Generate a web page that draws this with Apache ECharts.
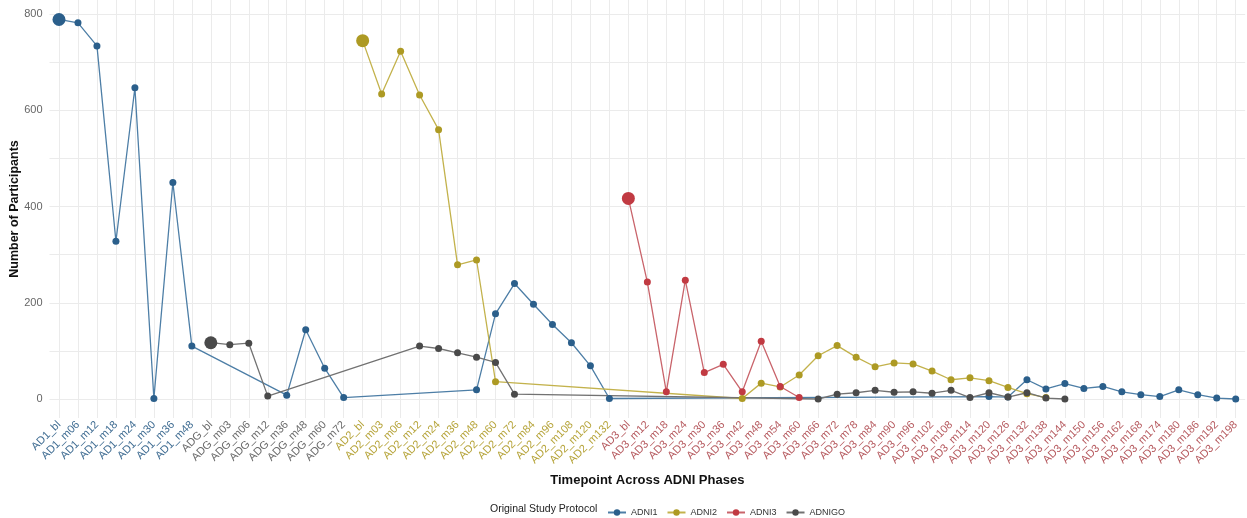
<!DOCTYPE html>
<html>
<head>
<meta charset="utf-8">
<script src="https://cdn.jsdelivr.net/npm/echarts@6/dist/echarts.min.js"></script>
<style>
  html, body { margin: 0; padding: 0; background: #ffffff; }
  #chart { width: 1247px; height: 518px; }
</style>
</head>
<body>
<div id="chart"></div>
<script>
// Visit codes along the x axis, in study order
const visitCodes = [
  'AD1_bl','AD1_m06','AD1_m12','AD1_m18','AD1_m24','AD1_m30','AD1_m36','AD1_m48',
  'ADG_bl','ADG_m03','ADG_m06','ADG_m12','ADG_m36','ADG_m48','ADG_m60','ADG_m72',
  'AD2_bl','AD2_m03','AD2_m06','AD2_m12','AD2_m24','AD2_m36','AD2_m48','AD2_m60',
  'AD2_m72','AD2_m84','AD2_m96','AD2_m108','AD2_m120','AD2_m132',
  'AD3_bl','AD3_m12','AD3_m18','AD3_m24','AD3_m30','AD3_m36','AD3_m42','AD3_m48',
  'AD3_m54','AD3_m60','AD3_m66','AD3_m72','AD3_m78','AD3_m84','AD3_m90','AD3_m96',
  'AD3_m102','AD3_m108','AD3_m114','AD3_m120','AD3_m126','AD3_m132','AD3_m138',
  'AD3_m144','AD3_m150','AD3_m156','AD3_m162','AD3_m168','AD3_m174','AD3_m180',
  'AD3_m186','AD3_m192','AD3_m198'
];

// Participants enrolled under ADNI1
const adni1Visits = ['AD1_bl','AD1_m06','AD1_m12','AD1_m18','AD1_m24','AD1_m30','AD1_m36','AD1_m48',
  'ADG_m36','ADG_m48','ADG_m60','ADG_m72',
  'AD2_m48','AD2_m60','AD2_m72','AD2_m84','AD2_m96','AD2_m108','AD2_m120','AD2_m132',
  'AD3_m120','AD3_m126','AD3_m132','AD3_m138','AD3_m144','AD3_m150','AD3_m156','AD3_m162',
  'AD3_m168','AD3_m174','AD3_m180','AD3_m186','AD3_m192','AD3_m198'];
const adni1Counts = [789, 782, 734, 328, 647, 1, 450, 110,
  8, 144, 64, 3,
  19, 177, 240, 197, 155, 117, 69, 1,
  5, 4, 40, 21, 32, 22, 26, 15,
  9, 5, 19, 9, 2, 0];

// Participants enrolled under ADNI2
const adni2Visits = ['AD2_bl','AD2_m03','AD2_m06','AD2_m12','AD2_m24','AD2_m36','AD2_m48','AD2_m60',
  'AD3_m42','AD3_m48','AD3_m54','AD3_m60','AD3_m66','AD3_m72','AD3_m78','AD3_m84','AD3_m90',
  'AD3_m96','AD3_m102','AD3_m108','AD3_m114','AD3_m120','AD3_m126','AD3_m132','AD3_m138'];
const adni2Counts = [745, 634, 723, 632, 560, 279, 289, 36,
  1, 33, 25, 50, 90, 111, 87, 67, 75,
  73, 58, 40, 44, 38, 24, 11, 3];

// Participants enrolled under ADNI3
const adni3Visits = ['AD3_bl','AD3_m12','AD3_m18','AD3_m24','AD3_m30','AD3_m36','AD3_m42','AD3_m48',
  'AD3_m54','AD3_m60'];
const adni3Counts = [417, 243, 15, 247, 55, 72, 15, 120, 26, 3];

// Participants enrolled under ADNIGO
const adnigoVisits = ['ADG_bl','ADG_m03','ADG_m06','ADG_m12',
  'AD2_m12','AD2_m24','AD2_m36','AD2_m48','AD2_m60','AD2_m72',
  'AD3_m66','AD3_m72','AD3_m78','AD3_m84','AD3_m90','AD3_m96','AD3_m102','AD3_m108',
  'AD3_m114','AD3_m120','AD3_m126','AD3_m132','AD3_m138','AD3_m144'];
const adnigoCounts = [117, 113, 116, 6,
  110, 105, 96, 87, 76, 10,
  0, 10, 13, 18, 14, 15, 12, 18,
  3, 13, 4, 13, 2, 0];

const yLabelValues = [0, 200, 400, 600, 800];

const palette = {
  ADNI1:  { point: '#2b5f8b', line: '#4d7ea6', label: '#3f6c92' },
  ADNI2:  { point: '#ad9a24', line: '#c3b24c', label: '#b6a43a' },
  ADNI3:  { point: '#c13a42', line: '#c9646b', label: '#b65a5f' },
  ADNIGO: { point: '#4a4a4a', line: '#727272', label: '#6a6a6a' }
};

function phaseColor(code) {
  if (code.indexOf('AD1') === 0) return palette.ADNI1.label;
  if (code.indexOf('ADG') === 0) return palette.ADNIGO.label;
  if (code.indexOf('AD2') === 0) return palette.ADNI2.label;
  return palette.ADNI3.label;
}

function makeSeries(name, visits, counts) {
  const c = palette[name];
  return {
    name: name,
    type: 'line',
    data: visits.map((v, i) => [v, counts[i]]),
    symbol: 'circle',
    symbolSize: (val, p) => (p.dataIndex === 0 ? 13 : 7),
    showAllSymbol: true,
    itemStyle: { color: c.point },
    lineStyle: { color: c.line, width: 1.3 },
    emphasis: { disabled: true },
    animation: false
  };
}

const chart = echarts.init(document.getElementById('chart'), null, { renderer: 'canvas' });

chart.setOption({
  backgroundColor: '#ffffff',
  animation: false,
  grid: { left: 49.5, right: 1.8, top: 0, bottom: 100, containLabel: false, outerBoundsMode: 'none' },
  xAxis: {
    type: 'category',
    data: visitCodes,
    boundaryGap: true,
    name: 'Timepoint Across ADNI Phases',
    nameLocation: 'middle',
    nameGap: 56,
    nameMoveOverlap: false,
    nameTextStyle: { fontFamily: 'Liberation Sans', fontWeight: 'bold', fontSize: 13, color: '#111' },
    axisLine: { show: false },
    axisTick: { show: false },
    axisLabel: {
      interval: 0,
      rotate: 45,
      margin: 5,
      fontFamily: 'Liberation Sans',
      fontSize: 11,
      color: (v) => phaseColor(v)
    },
    splitLine: { show: true, alignWithLabel: true, lineStyle: { color: '#ebebeb', width: 1 } }
  },
  yAxis: {
    type: 'value',
    min: -39.5,
    max: 829.5,
    splitNumber: 9,
    name: 'Number of Participants',
    nameLocation: 'middle',
    nameGap: 28,
    nameMoveOverlap: false,
    nameTextStyle: { fontFamily: 'Liberation Sans', fontWeight: 'bold', fontSize: 12.5, color: '#111' },
    axisLine: { show: false },
    axisTick: { show: false },
    axisLabel: {
      showMinLabel: false,
      showMaxLabel: false,
      margin: 7,
      fontFamily: 'Liberation Sans',
      fontSize: 11,
      color: '#666666',
      formatter: (v) => (yLabelValues.indexOf(v) >= 0 ? String(v) : '')
    },
    splitLine: { show: true, showMinLine: false, showMaxLine: false, lineStyle: { color: '#ebebeb', width: 1 } }
  },
  legend: {
    left: 602,
    top: 503,
    itemWidth: 18,
    itemHeight: 8,
    itemGap: 9,
    textStyle: { fontFamily: 'Liberation Sans', fontSize: 9, color: '#333' },
    data: ['ADNI1', 'ADNI2', 'ADNI3', 'ADNIGO']
  },
  graphic: [{
    type: 'text',
    left: 490,
    top: 504,
    style: { text: 'Original Study Protocol', font: '10.5px "Liberation Sans"', fill: '#222' }
  }],
  series: [
    makeSeries('ADNI1', adni1Visits, adni1Counts),
    makeSeries('ADNI2', adni2Visits, adni2Counts),
    makeSeries('ADNI3', adni3Visits, adni3Counts),
    makeSeries('ADNIGO', adnigoVisits, adnigoCounts)
  ]
});
</script>
</body>
</html>
